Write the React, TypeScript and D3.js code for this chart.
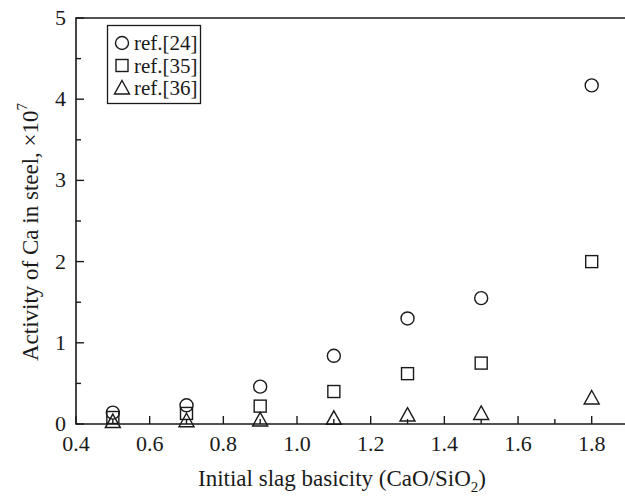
import React from "react";
import * as d3 from "d3";

const basicity = [0.5, 0.7, 0.9, 1.1, 1.3, 1.5, 1.8];
const ref24 = [0.14, 0.23, 0.46, 0.84, 1.3, 1.55, 4.17];
const ref35 = [0.08, 0.13, 0.22, 0.4, 0.62, 0.75, 2.0];
const ref36 = [0.03, 0.04, 0.05, 0.07, 0.11, 0.13, 0.32];
const xTickLabels = ["0.4", "0.6", "0.8", "1.0", "1.2", "1.4", "1.6", "1.8"];
const yTickLabels = ["0", "1", "2", "3", "4", "5"];
const legendLabels = ["ref.[24]", "ref.[35]", "ref.[36]"];

const W = 625, H = 496;
const FONT = "'Liberation Serif', 'Times New Roman', serif";
const INK = "#1a1a1a";

export default function App() {
  const x = d3.scaleLinear().domain([0.4, 1.8]).range([76, 591.7]);
  const y = d3.scaleLinear().domain([0, 5]).range([424, 18]);
  const xRightEdge = x(2.0);

  const xMajor = xTickLabels.map(Number);
  const xMinor = d3.range(0.5, 1.95, 0.2);
  const yMajor = yTickLabels.map(Number);
  const yMinor = d3.range(0.5, 5, 1);

  const circle = (cx: number, cy: number, k: string) => (
    <circle key={k} cx={cx} cy={cy} r={6.5} fill="none" stroke={INK} strokeWidth={1.4} />
  );
  const square = (cx: number, cy: number, k: string) => (
    <rect key={k} x={cx - 6} y={cy - 6} width={12} height={12} fill="none" stroke={INK} strokeWidth={1.4} />
  );
  const tri = (cx: number, cy: number, k: string) => (
    <path key={k} d={`M${cx},${cy - 7.5}L${cx + 7.5},${cy + 6}L${cx - 7.5},${cy + 6}Z`} fill="none" stroke={INK} strokeWidth={1.4} />
  );

  const series = [
    { data: ref24, mark: circle },
    { data: ref35, mark: square },
    { data: ref36, mark: tri },
  ];

  return (
    <svg width={W} height={H} style={{ position: "absolute", left: 0, top: 0, background: "#fff" }} fontFamily={FONT}>
      <rect x={0} y={0} width={W} height={H} fill="#fff" />
      {/* frame */}
      <path d={`M${xRightEdge},${y(5)}H${x(0.4)}V${y(0)}H${xRightEdge}`} fill="none" stroke={INK} strokeWidth={1.6} />
      {/* x ticks */}
      {xMajor.map((v, i) => (
        <line key={"xm" + i} x1={x(v)} x2={x(v)} y1={y(0)} y2={y(0) - 8} stroke={INK} strokeWidth={1.4} />
      ))}
      {xMinor.map((v, i) => (
        <line key={"xn" + i} x1={x(v)} x2={x(v)} y1={y(0)} y2={y(0) - 5} stroke={INK} strokeWidth={1.4} />
      ))}
      {/* y ticks */}
      {yMajor.map((v, i) => (
        <line key={"ym" + i} x1={x(0.4)} x2={x(0.4) + 8} y1={y(v)} y2={y(v)} stroke={INK} strokeWidth={1.4} />
      ))}
      {yMinor.map((v, i) => (
        <line key={"yn" + i} x1={x(0.4)} x2={x(0.4) + 5} y1={y(v)} y2={y(v)} stroke={INK} strokeWidth={1.4} />
      ))}
      {/* tick labels */}
      {xTickLabels.map((t, i) => (
        <text key={"xl" + i} x={x(xMajor[i])} y={451} textAnchor="middle" fontSize={22} fill={INK}>{t}</text>
      ))}
      {yTickLabels.map((t, i) => (
        <text key={"yl" + i} x={66} y={y(yMajor[i]) + 7} textAnchor="end" fontSize={22} fill={INK}>{t}</text>
      ))}
      {/* axis titles */}
      <text x={342} y={486} textAnchor="middle" fontSize={23} fill={INK}>
        Initial slag basicity (CaO/SiO<tspan fontSize={15} dy={6}>2</tspan><tspan dy={-6}>)</tspan>
      </text>
      <text transform="translate(38,232) rotate(-90)" textAnchor="middle" fontSize={23} fill={INK}>
        Activity of  Ca in steel, ×10<tspan fontSize={15} dy={-11}>7</tspan>
      </text>
      {/* data */}
      {series.map((s, si) =>
        s.data.map((v, i) => s.mark(x(basicity[i]), y(v), `p${si}-${i}`))
      )}
      {/* legend */}
      <rect x={107.5} y={25.5} width={93} height={78} fill="#fff" stroke={INK} strokeWidth={1.3} />
      {legendLabels.map((l, i) => {
        const cy = 43 + i * 22.5;
        return (
          <g key={"lg" + i}>
            {series[i].mark(122, cy, "lm" + i)}
            <text x={134} y={cy + 7} fontSize={21} fill={INK}>{l}</text>
          </g>
        );
      })}
    </svg>
  );
}
